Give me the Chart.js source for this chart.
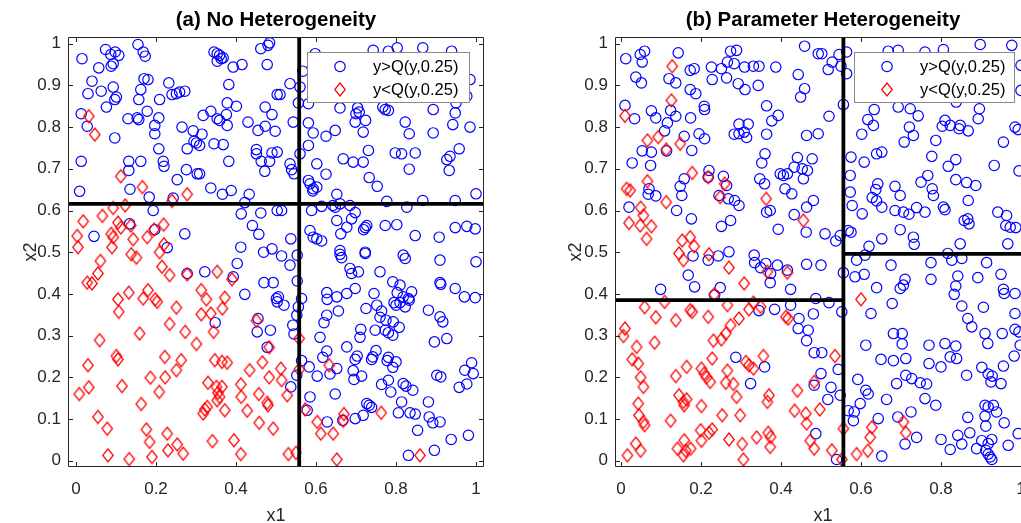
<!DOCTYPE html>
<html><head><meta charset="utf-8">
<script src="https://cdn.jsdelivr.net/npm/chart.js@4.4.1/dist/chart.umd.min.js"></script>
<style>
html,body{margin:0;padding:0;background:#fff;overflow:hidden;width:1021px;height:523px;position:relative;}
canvas{display:block;}
#wa{position:absolute;left:0;top:0;}
#wb{position:absolute;left:560px;top:0;}
</style></head><body>
<div id="wa"><canvas id="ca" width="552" height="540"></canvas></div>
<div id="wb"><canvas id="cb" width="526" height="540"></canvas></div>
<script>
// ---------- tick labels ----------
const xTickValues = [0, 0.2, 0.4, 0.6, 0.8, 1];
const xTickLabels = ['0', '0.2', '0.4', '0.6', '0.8', '1'];
const yTickValues = [0, 0.1, 0.2, 0.3, 0.4, 0.5, 0.6, 0.7, 0.8, 0.9, 1];
const yTickLabels = ['0', '0.1', '0.2', '0.3', '0.4', '0.5', '0.6', '0.7', '0.8', '0.9', '1'];
const seriesNames = ['y>Q(y,0.25)', 'y<Q(y,0.25)'];
const panelTitles = ['(a) No Heterogeneity', '(b) Parameter Heterogeneity'];

// ---------- panel (a): points above the 0.25 quantile [x1, x2] ----------
const aAbove = [
[0.015,0.964],[0.074,0.986],[0.087,0.974],[0.098,0.980],[0.107,0.972],[0.093,0.952],[0.088,0.946],[0.057,0.942],[0.155,0.998],[0.168,0.980],[0.173,0.970],[0.040,0.910],[0.030,0.880],[0.063,0.886],[0.093,0.896],[0.101,0.872],[0.097,0.866],[0.076,0.848],[0.013,0.832],[0.028,0.802],[0.097,0.774],[0.170,0.916],[0.180,0.914],[0.162,0.890],[0.157,0.866],[0.178,0.838],[0.130,0.820],[0.153,0.822],[0.157,0.818],[0.209,0.866],[0.232,0.906],[0.240,0.878],[0.251,0.880],[0.259,0.884],[0.272,0.886],[0.207,0.822],[0.197,0.804],[0.197,0.784],[0.207,0.748],[0.218,0.718],[0.220,0.706],[0.162,0.718],[0.132,0.718],[0.132,0.696],[0.135,0.651],[0.183,0.632],[0.265,0.800],[0.293,0.791],[0.315,0.783],[0.295,0.766],[0.301,0.762],[0.309,0.756],[0.278,0.748],[0.345,0.760],[0.368,0.758],[0.337,0.838],[0.318,0.828],[0.353,0.820],[0.359,0.816],[0.376,0.830],[0.378,0.804],[0.401,0.850],[0.378,0.858],[0.382,0.902],[0.430,0.812],[0.455,0.792],[0.473,0.802],[0.473,0.848],[0.490,0.830],[0.503,0.878],[0.498,0.790],[0.451,0.746],[0.451,0.736],[0.463,0.718],[0.484,0.718],[0.490,0.738],[0.503,0.740],[0.472,0.694],[0.382,0.718],[0.276,0.698],[0.303,0.688],[0.309,0.688],[0.253,0.674],[0.337,0.654],[0.366,0.639],[0.388,0.648],[0.433,0.639],[0.422,0.619],[0.013,0.718],[0.009,0.646],[0.243,0.630],[0.345,0.980],[0.353,0.976],[0.359,0.972],[0.363,0.964],[0.353,0.958],[0.368,0.966],[0.393,0.944],[0.415,0.950],[0.462,0.988],[0.480,0.996],[0.484,1.002],[0.478,0.950],[0.193,0.600],[0.413,0.592],[0.462,0.594],[0.441,0.564],[0.457,0.543],[0.412,0.512],[0.469,0.500],[0.490,0.508],[0.503,0.600],[0.134,0.568],[0.045,0.538],[0.197,0.554],[0.272,0.544],[0.228,0.511],
[0.567,0.934],[0.535,0.904],[0.560,0.896],[0.510,0.878],[0.556,0.858],[0.581,0.856],[0.543,0.812],[0.581,0.810],[0.593,0.786],[0.625,0.778],[0.648,0.792],[0.660,0.846],[0.704,0.846],[0.700,0.832],[0.708,0.836],[0.698,0.812],[0.724,0.816],[0.718,0.788],[0.767,0.848],[0.773,0.842],[0.781,0.840],[0.823,0.812],[0.833,0.784],[0.893,0.786],[0.893,0.842],[0.942,0.806],[0.948,0.834],[0.950,0.858],[0.985,0.800],[0.985,0.914],[0.977,0.874],[0.581,0.756],[0.560,0.736],[0.535,0.712],[0.539,0.698],[0.545,0.688],[0.602,0.712],[0.625,0.687],[0.668,0.724],[0.693,0.716],[0.718,0.716],[0.731,0.744],[0.798,0.738],[0.814,0.736],[0.848,0.738],[0.833,0.699],[0.927,0.722],[0.935,0.730],[0.958,0.748],[0.933,0.696],[0.733,0.679],[0.753,0.658],[0.581,0.672],[0.585,0.664],[0.593,0.652],[0.602,0.656],[0.592,0.647],[0.652,0.639],[0.642,0.612],[0.648,0.608],[0.660,0.616],[0.685,0.612],[0.614,0.610],[0.589,0.600],[0.514,0.600],[0.777,0.622],[0.827,0.608],[0.867,0.624],[0.948,0.624],[1.000,0.640],[0.698,0.595],[0.689,0.580],[0.677,0.560],[0.652,0.576],[0.727,0.564],[0.723,0.559],[0.719,0.554],[0.773,0.564],[0.802,0.566],[0.585,0.552],[0.593,0.536],[0.602,0.532],[0.614,0.527],[0.537,0.532],[0.662,0.544],[0.848,0.540],[0.908,0.536],[0.948,0.559],[0.977,0.562],[0.998,0.556],[0.660,0.504],[0.723,0.500],[0.743,0.984],[0.781,0.982],[0.803,0.990],[0.867,0.990],[0.939,0.982],[0.598,0.976],
[0.278,0.449],[0.322,0.453],[0.393,0.441],[0.403,0.473],[0.470,0.427],[0.493,0.427],[0.422,0.399],[0.501,0.389],[0.503,0.381],[0.348,0.331],[0.455,0.341],[0.453,0.309],[0.486,0.313],[0.478,0.272],
[0.514,0.491],[0.535,0.469],[0.553,0.493],[0.660,0.495],[0.664,0.487],[0.723,0.497],[0.818,0.493],[0.823,0.485],[0.910,0.481],[1.000,0.477],[0.685,0.461],[0.689,0.449],[0.706,0.453],[0.760,0.453],[0.553,0.431],[0.792,0.429],[0.810,0.421],[0.803,0.403],[0.839,0.405],[0.831,0.389],[0.910,0.427],[0.912,0.423],[0.948,0.413],[0.971,0.393],[0.998,0.391],[0.745,0.401],[0.698,0.413],[0.677,0.401],[0.652,0.393],[0.627,0.403],[0.628,0.387],[0.506,0.393],[0.520,0.373],[0.564,0.389],[0.556,0.369],[0.552,0.349],[0.656,0.359],[0.627,0.349],[0.620,0.331],[0.610,0.296],[0.725,0.365],[0.752,0.373],[0.764,0.359],[0.760,0.344],[0.775,0.337],[0.795,0.379],[0.800,0.373],[0.810,0.379],[0.823,0.369],[0.818,0.393],[0.833,0.385],[0.793,0.333],[0.808,0.320],[0.712,0.315],[0.710,0.296],[0.748,0.313],[0.773,0.313],[0.781,0.307],[0.792,0.301],[0.677,0.273],[0.627,0.263],[0.617,0.248],[0.652,0.221],[0.635,0.208],[0.698,0.243],[0.703,0.251],[0.693,0.216],[0.714,0.203],[0.695,0.195],[0.742,0.249],[0.750,0.264],[0.739,0.243],[0.781,0.248],[0.778,0.240],[0.792,0.224],[0.800,0.237],[0.583,0.225],[0.603,0.203],[0.552,0.205],[0.564,0.240],[0.542,0.325],[0.545,0.304],[0.585,0.153],[0.648,0.160],[0.537,0.177],[0.764,0.183],[0.781,0.193],[0.787,0.165],[0.818,0.185],[0.825,0.179],[0.842,0.169],[0.814,0.141],[0.727,0.137],[0.733,0.133],[0.739,0.128],[0.718,0.109],[0.698,0.101],[0.667,0.097],[0.628,0.093],[0.578,0.121],[0.806,0.115],[0.835,0.115],[0.848,0.112],[0.881,0.141],[0.883,0.105],[0.892,0.091],[0.910,0.093],[0.854,0.073],[0.902,0.205],[0.912,0.201],[0.896,0.285],[0.927,0.293],[0.910,0.345],[0.917,0.333],[0.881,0.361],[0.958,0.176],[0.977,0.184],[0.972,0.217],[0.989,0.235],[0.993,0.209],[0.938,0.051],[0.981,0.061],[0.896,0.025],[0.831,0.013]
];

// ---------- panel (a): points below the 0.25 quantile ----------
const aBelow = [
[0.032,0.826],[0.047,0.782],[0.112,0.682],[0.166,0.656],[0.278,0.639],[0.240,0.623],[0.123,0.612],[0.093,0.606],[0.066,0.587],[0.018,0.574],[0.003,0.539],[0.005,0.512],[0.105,0.571],[0.112,0.559],[0.137,0.564],[0.088,0.544],[0.093,0.536],[0.090,0.512],[0.143,0.531],[0.178,0.536],[0.195,0.554],[0.219,0.566],[0.220,0.519],[0.209,0.500],
[0.138,0.495],[0.151,0.487],[0.061,0.479],[0.055,0.449],[0.028,0.427],[0.040,0.425],[0.215,0.465],[0.234,0.445],[0.278,0.447],[0.353,0.453],[0.390,0.435],[0.105,0.387],[0.132,0.403],[0.107,0.357],[0.168,0.389],[0.180,0.409],[0.198,0.387],[0.203,0.381],[0.251,0.367],[0.234,0.328],[0.313,0.409],[0.326,0.387],[0.372,0.391],[0.366,0.365],[0.313,0.351],[0.337,0.353],[0.344,0.309],[0.273,0.309],[0.301,0.280],[0.159,0.305],[0.059,0.289],[0.451,0.336],[0.483,0.272],[0.222,0.249],[0.263,0.241],[0.251,0.217],[0.101,0.251],[0.105,0.243],[0.030,0.229],[0.347,0.241],[0.365,0.237],[0.378,0.235],[0.434,0.217],[0.466,0.236],[0.483,0.200],[0.186,0.199],[0.223,0.200],[0.330,0.187],[0.351,0.177],[0.365,0.177],[0.355,0.163],[0.359,0.153],[0.353,0.145],[0.372,0.121],[0.322,0.123],[0.328,0.129],[0.318,0.113],[0.412,0.183],[0.413,0.153],[0.457,0.160],[0.478,0.139],[0.480,0.133],[0.428,0.120],[0.458,0.091],[0.493,0.077],[0.008,0.160],[0.032,0.176],[0.115,0.179],[0.208,0.165],[0.163,0.136],[0.055,0.105],[0.078,0.077],[0.176,0.075],[0.184,0.045],[0.228,0.065],[0.253,0.039],[0.230,0.025],[0.268,0.017],[0.080,0.013],[0.133,0.004],[0.190,0.009],[0.341,0.047],[0.395,0.049],[0.412,0.016],
[0.558,0.293],[0.512,0.221],[0.514,0.193],[0.558,0.219],[0.633,0.229],[0.528,0.157],[0.573,0.123],[0.603,0.093],[0.612,0.065],[0.643,0.065],[0.670,0.112],[0.668,0.096],[0.763,0.115],[0.531,0.016],[0.550,0.019],[0.652,0.003],[0.860,0.013]
];

// ---------- panel (b): points above the 0.25 quantile ----------
const bAbove = [
[0.012,0.964],[0.048,0.974],[0.059,0.982],[0.053,0.956],[0.143,0.978],[0.037,0.920],[0.051,0.906],[0.120,0.916],[0.137,0.906],[0.173,0.936],[0.183,0.940],[0.173,0.890],[0.187,0.880],[0.226,0.944],[0.228,0.914],[0.251,0.940],[0.266,0.956],[0.274,0.982],[0.289,0.984],[0.283,0.952],[0.264,0.918],[0.293,0.904],[0.310,0.890],[0.309,0.944],[0.331,0.946],[0.345,0.946],[0.343,0.900],[0.387,0.944],[0.459,0.994],[0.443,0.926],[0.459,0.892],[0.449,0.872],[0.493,0.976],[0.010,0.852],[0.034,0.820],[0.076,0.839],[0.087,0.822],[0.124,0.840],[0.137,0.826],[0.116,0.810],[0.109,0.791],[0.174,0.822],[0.208,0.850],[0.209,0.842],[0.158,0.778],[0.195,0.784],[0.209,0.772],[0.053,0.743],[0.076,0.740],[0.114,0.743],[0.074,0.708],[0.028,0.714],[0.177,0.744],[0.295,0.807],[0.318,0.807],[0.283,0.783],[0.295,0.784],[0.308,0.788],[0.314,0.775],[0.364,0.851],[0.393,0.828],[0.377,0.815],[0.364,0.783],[0.360,0.736],[0.352,0.714],[0.464,0.780],[0.493,0.784],[0.441,0.727],[0.433,0.704],[0.416,0.688],[0.398,0.688],[0.406,0.684],[0.453,0.700],[0.466,0.696],[0.478,0.724],[0.456,0.676],[0.347,0.676],[0.359,0.664],[0.410,0.652],[0.427,0.640],[0.481,0.624],[0.464,0.608],[0.433,0.590],[0.463,0.548],[0.393,0.555],[0.364,0.596],[0.373,0.600],[0.220,0.696],[0.218,0.680],[0.158,0.676],[0.148,0.658],[0.152,0.636],[0.070,0.652],[0.068,0.639],[0.087,0.635],[0.256,0.682],[0.264,0.660],[0.245,0.636],[0.268,0.628],[0.284,0.624],[0.295,0.612],[0.274,0.576],[0.251,0.562],[0.139,0.600],[0.176,0.580],[0.020,0.608],
[0.502,0.976],[0.528,0.956],[0.518,0.938],[0.545,0.974],[0.550,0.946],[0.564,0.980],[0.564,0.928],[0.668,0.982],[0.693,0.984],[0.760,0.980],[0.806,0.986],[0.898,0.998],[0.977,0.996],[1.000,0.948],[1.000,0.888],[0.556,0.854],[0.520,0.826],[0.633,0.842],[0.617,0.818],[0.631,0.804],[0.602,0.783],[0.693,0.848],[0.723,0.844],[0.743,0.827],[0.721,0.800],[0.731,0.780],[0.708,0.764],[0.787,0.768],[0.810,0.816],[0.803,0.802],[0.823,0.804],[0.848,0.804],[0.845,0.796],[0.868,0.791],[0.896,0.844],[0.893,0.820],[0.838,0.860],[0.956,0.764],[0.985,0.800],[0.993,0.794],[0.575,0.728],[0.608,0.716],[0.639,0.736],[0.652,0.740],[0.777,0.730],[0.818,0.706],[0.837,0.722],[0.933,0.708],[0.995,0.695],[0.573,0.684],[0.573,0.644],[0.642,0.664],[0.637,0.650],[0.628,0.631],[0.639,0.623],[0.652,0.608],[0.685,0.658],[0.698,0.636],[0.767,0.684],[0.750,0.668],[0.778,0.652],[0.781,0.636],[0.837,0.674],[0.864,0.667],[0.887,0.660],[0.868,0.624],[0.578,0.612],[0.603,0.592],[0.685,0.600],[0.706,0.596],[0.720,0.591],[0.739,0.607],[0.760,0.596],[0.806,0.608],[0.810,0.602],[0.858,0.576],[0.867,0.580],[0.870,0.568],[0.942,0.596],[0.964,0.588],[0.962,0.564],[0.973,0.560],[0.987,0.559],[0.510,0.544],[0.537,0.527],[0.548,0.540],[0.568,0.552],[0.575,0.548],[0.652,0.532],[0.698,0.554],[0.731,0.536],[0.733,0.519],[0.848,0.520],[0.967,0.520],[0.620,0.514],
[0.180,0.491],[0.218,0.481],[0.243,0.491],[0.270,0.501],[0.168,0.445],[0.184,0.417],[0.099,0.411],[0.248,0.415],[0.234,0.397],[0.333,0.493],[0.334,0.475],[0.349,0.463],[0.362,0.473],[0.374,0.449],[0.391,0.469],[0.416,0.457],[0.373,0.427],[0.424,0.411],[0.464,0.471],[0.487,0.389],[0.345,0.360],[0.384,0.363],[0.424,0.373],[0.445,0.341],[0.443,0.317],[0.468,0.313],[0.464,0.288],[0.481,0.352],[0.483,0.259],[0.287,0.248],[0.359,0.225],[0.324,0.185],[0.483,0.181],[0.487,0.065],
[0.500,0.469],[0.556,0.451],[0.585,0.441],[0.589,0.481],[0.608,0.447],[0.610,0.493],[0.675,0.469],[0.639,0.415],[0.698,0.413],[0.706,0.421],[0.710,0.435],[0.775,0.475],[0.775,0.435],[0.817,0.497],[0.827,0.481],[0.852,0.485],[0.914,0.475],[0.842,0.443],[0.837,0.419],[0.833,0.399],[0.892,0.439],[0.950,0.447],[0.956,0.411],[0.958,0.401],[0.985,0.401],[0.520,0.379],[0.552,0.357],[0.678,0.377],[0.625,0.353],[0.852,0.371],[0.867,0.341],[0.877,0.321],[0.906,0.368],[0.985,0.353],[0.910,0.305],[0.917,0.281],[0.953,0.305],[0.985,0.315],[0.995,0.309],[0.998,0.277],[0.681,0.305],[0.703,0.305],[0.703,0.280],[0.612,0.277],[0.770,0.277],[0.810,0.281],[0.837,0.275],[0.650,0.243],[0.681,0.240],[0.712,0.245],[0.770,0.233],[0.800,0.225],[0.823,0.249],[0.839,0.245],[0.983,0.251],[0.902,0.224],[0.956,0.227],[0.918,0.208],[0.928,0.203],[0.925,0.189],[0.950,0.185],[0.864,0.205],[0.502,0.259],[0.543,0.219],[0.500,0.209],[0.525,0.176],[0.517,0.147],[0.548,0.157],[0.592,0.195],[0.612,0.169],[0.618,0.160],[0.689,0.185],[0.712,0.205],[0.727,0.197],[0.748,0.187],[0.764,0.184],[0.664,0.147],[0.760,0.149],[0.787,0.133],[0.598,0.137],[0.568,0.120],[0.583,0.117],[0.581,0.096],[0.643,0.101],[0.692,0.105],[0.725,0.117],[0.739,0.056],[0.710,0.040],[0.652,0.011],[0.539,0.003],[0.800,0.051],[0.823,0.027],[0.842,0.061],[0.852,0.040],[0.872,0.067],[0.867,0.104],[0.910,0.133],[0.918,0.129],[0.931,0.133],[0.939,0.117],[0.910,0.107],[0.912,0.083],[0.958,0.091],[0.889,0.029],[0.902,0.048],[0.918,0.041],[0.927,0.051],[0.912,0.025],[0.923,0.009],[0.927,0.003],[0.918,0.016],[0.968,0.037],[0.993,0.065]
];

// ---------- panel (b): points below the 0.25 quantile ----------
const bBelow = [
[0.128,0.946],[0.126,0.864],[0.010,0.827],[0.066,0.768],[0.093,0.776],[0.113,0.746],[0.148,0.760],[0.178,0.690],[0.218,0.680],[0.259,0.664],[0.248,0.632],[0.066,0.670],[0.014,0.652],[0.023,0.648],[0.113,0.620],[0.049,0.607],[0.056,0.588],[0.020,0.570],[0.048,0.564],[0.076,0.562],[0.064,0.532],[0.363,0.628],[0.456,0.576],[0.153,0.528],[0.173,0.536],[0.183,0.514],
[0.145,0.497],[0.156,0.481],[0.220,0.495],[0.270,0.463],[0.308,0.425],[0.233,0.399],[0.366,0.453],[0.416,0.451],[0.109,0.381],[0.059,0.368],[0.087,0.344],[0.137,0.337],[0.173,0.361],[0.178,0.357],[0.218,0.345],[0.266,0.373],[0.295,0.341],[0.320,0.363],[0.331,0.379],[0.349,0.369],[0.412,0.345],[0.418,0.341],[0.010,0.317],[0.006,0.299],[0.084,0.283],[0.039,0.273],[0.231,0.288],[0.251,0.291],[0.262,0.305],[0.274,0.325],[0.028,0.243],[0.043,0.233],[0.228,0.245],[0.312,0.237],[0.320,0.229],[0.331,0.221],[0.356,0.251],[0.164,0.225],[0.137,0.203],[0.201,0.221],[0.208,0.209],[0.214,0.200],[0.223,0.189],[0.266,0.216],[0.262,0.187],[0.281,0.184],[0.049,0.200],[0.056,0.177],[0.289,0.153],[0.145,0.157],[0.156,0.141],[0.164,0.147],[0.158,0.133],[0.201,0.131],[0.043,0.137],[0.045,0.109],[0.056,0.093],[0.059,0.085],[0.124,0.096],[0.253,0.109],[0.298,0.109],[0.370,0.157],[0.366,0.141],[0.441,0.168],[0.434,0.120],[0.462,0.113],[0.464,0.089],[0.483,0.189],[0.199,0.073],[0.220,0.067],[0.228,0.075],[0.270,0.051],[0.303,0.040],[0.306,0.003],[0.339,0.056],[0.368,0.067],[0.374,0.057],[0.373,0.033],[0.473,0.048],[0.483,0.029],[0.158,0.049],[0.141,0.029],[0.162,0.024],[0.174,0.029],[0.156,0.013],[0.201,0.048],[0.037,0.041],[0.049,0.024],[0.016,0.013],
[0.600,0.387],[0.535,0.251],[0.497,0.123],[0.556,0.077],[0.527,0.025],[0.552,0.003],[0.589,0.016],[0.617,0.024],[0.623,0.056],[0.627,0.080],[0.706,0.093],[0.712,0.067]
];

// ---------- partition lines (tree splits) [x1, x2] ----------
const aSplitVertical = [[0.558,-0.015],[0.558,1.016]];
const aSplitHorizontal = [[-0.02,0.616],[1.02,0.616]];
const bSplitVertical = [[0.556,-0.015],[0.556,1.016]];
const bSplitLeft = [[-0.015,0.385],[0.556,0.385]];
const bSplitRight = [[0.556,0.496],[1.025,0.496]];

// ---------- axis ranges ----------
const aXRange = [-0.02, 1.02];
const bXRange = [-0.015, 1.025];
const yRange = [-0.015, 1.016];

const FONT = "'Liberation Sans', Arial, Helvetica, sans-serif";
const TXT = '#262626';
const toPts = arr => arr.map(p => ({x: p[0], y: p[1]}));

// diamond marker sprite (slightly taller than wide, like the reference)
function makeDiamond(w, h, color, lw) {
  const c = document.createElement('canvas');
  c.width = Math.ceil(w + lw + 2); c.height = Math.ceil(h + lw + 2);
  const g = c.getContext('2d');
  const cx = c.width / 2, cy = c.height / 2;
  g.strokeStyle = color; g.lineWidth = lw;
  g.beginPath();
  g.moveTo(cx, cy - h / 2); g.lineTo(cx + w / 2, cy); g.lineTo(cx, cy + h / 2); g.lineTo(cx - w / 2, cy);
  g.closePath(); g.stroke();
  return c;
}
const diamondSprite = makeDiamond(10.5, 13, '#ff0000', 1.2);

function lineDs(arr) {
  return {type: 'scatter', data: toPts(arr), showLine: true, borderColor: '#000', borderWidth: 3.8,
          pointRadius: 0, fill: false, backgroundColor: '#000'};
}

const boxTicksPlugin = {
  id: 'boxTicks',
  afterDatasetsDraw(chart) {
    const {ctx, chartArea: a, scales: {x, y}} = chart;
    ctx.save();
    ctx.strokeStyle = TXT; ctx.lineWidth = 1;
    ctx.beginPath();
    ctx.rect(Math.round(a.left) + 0.5, Math.round(a.top) + 0.5, Math.round(a.right - a.left) - 1, Math.round(a.bottom - a.top) - 1);
    const L = 5;
    x.ticks.forEach(t => {
      const px = Math.round(x.getPixelForValue(t.value)) + 0.5;
      ctx.moveTo(px, a.bottom); ctx.lineTo(px, a.bottom - L);
      ctx.moveTo(px, a.top); ctx.lineTo(px, a.top + L);
    });
    y.ticks.forEach(t => {
      const py = Math.round(y.getPixelForValue(t.value)) + 0.5;
      ctx.moveTo(a.left, py); ctx.lineTo(a.left + L, py);
      ctx.moveTo(a.right, py); ctx.lineTo(a.right - L, py);
    });
    ctx.stroke();
    ctx.restore();
  }
};

const legendPlugin = {
  id: 'boxLegend',
  afterDraw(chart, args, opts) {
    const {ctx, chartArea: a} = chart;
    const w = opts.width, h = 50;
    const left = a.right - opts.right - w, top = a.top + 15;
    ctx.save();
    ctx.fillStyle = '#fff';
    ctx.fillRect(left, top, w, h);
    ctx.strokeStyle = '#8a8a8a'; ctx.lineWidth = 1;
    ctx.strokeRect(Math.round(left) + 0.5, Math.round(top) + 0.5, w, h);
    const mx = left + 33;
    const y1 = top + 14.5, y2 = top + 37.5;
    ctx.lineWidth = 1.2;
    ctx.strokeStyle = '#0000ff';
    ctx.beginPath(); ctx.arc(mx, y1, 5.2, 0, Math.PI * 2); ctx.stroke();
    ctx.drawImage(diamondSprite, mx - diamondSprite.width / 2, y2 - diamondSprite.height / 2);
    ctx.fillStyle = '#000';
    ctx.font = '16.5px ' + FONT;
    ctx.textAlign = 'left'; ctx.textBaseline = 'middle';
    ctx.fillText(seriesNames[0], left + 66, y1 + 1);
    ctx.fillText(seriesNames[1], left + 66, y2 + 1);
    ctx.restore();
  }
};

function makeChart(id, cfg) {
  return new Chart(document.getElementById(id), {
    type: 'scatter',
    data: {
      datasets: [
        ...cfg.lines.map(lineDs),
        {label: seriesNames[1], data: toPts(cfg.below), pointStyle: diamondSprite, pointRadius: 6,
         borderColor: '#ff0000', backgroundColor: 'rgba(0,0,0,0)', borderWidth: 1.2},
        {label: seriesNames[0], data: toPts(cfg.above), pointStyle: 'circle', pointRadius: 5.2,
         borderColor: '#0000ff', backgroundColor: 'rgba(0,0,0,0)', borderWidth: 1.2}
      ]
    },
    plugins: [boxTicksPlugin, legendPlugin],
    options: {
      responsive: false, animation: false, devicePixelRatio: 1, events: [],
      layout: {padding: {left: 0, right: cfg.padRight, top: 0, bottom: 0}},
      plugins: {
        legend: {display: false}, tooltip: {enabled: false},
        title: {display: true, fullSize: false, text: cfg.title, color: '#000',
                font: {family: FONT, size: 20.5, weight: 'bold', lineHeight: 1.2},
                padding: {top: 8, bottom: 4.4}},
        boxLegend: {width: cfg.legendWidth, right: cfg.legendRight}
      },
      scales: {
        x: {
          type: 'linear', min: cfg.xRange[0], max: cfg.xRange[1],
          afterBuildTicks: s => { s.ticks = xTickValues.map(v => ({value: v})); },
          afterFit: s => { s.height = 73; s.paddingLeft = 0; s.paddingRight = 0; },
          ticks: {autoSkip: false, maxRotation: 0, padding: 12, color: TXT,
                  font: {family: FONT, size: 17}, callback: (v, i) => xTickLabels[i]},
          grid: {display: false, drawTicks: false}, border: {display: false},
          title: {display: true, text: 'x1', color: TXT, font: {family: FONT, size: 18, lineHeight: 1.2},
                  padding: {top: 0, bottom: 13.5}}
        },
        y: {
          type: 'linear', min: yRange[0], max: yRange[1],
          afterBuildTicks: s => { s.ticks = yTickValues.map(v => ({value: v})); },
          afterFit: s => { s.width = cfg.yWidth; s.paddingTop = 0; s.paddingBottom = 0; },
          ticks: {autoSkip: false, padding: 7, color: TXT,
                  font: {family: FONT, size: 17}, callback: (v, i) => yTickLabels[i]},
          grid: {display: false, drawTicks: false}, border: {display: false},
          title: {display: true, text: 'x2', color: TXT, font: {family: FONT, size: 18, lineHeight: 1.2},
                  padding: {top: cfg.yTitlePad, bottom: 0}}
        }
      }
    }
  });
}

makeChart('ca', {title: panelTitles[0], above: aAbove, below: aBelow,
  lines: [aSplitVertical, aSplitHorizontal], xRange: aXRange,
  padRight: 68, yWidth: 68, yTitlePad: 20, legendWidth: 162, legendRight: 15});
makeChart('cb', {title: panelTitles[1], above: bAbove, below: bBelow,
  lines: [bSplitVertical, bSplitLeft, bSplitRight], xRange: bXRange,
  padRight: 55, yWidth: 55, yTitlePad: 5, legendWidth: 160, legendRight: 17});
</script>
</body></html>
